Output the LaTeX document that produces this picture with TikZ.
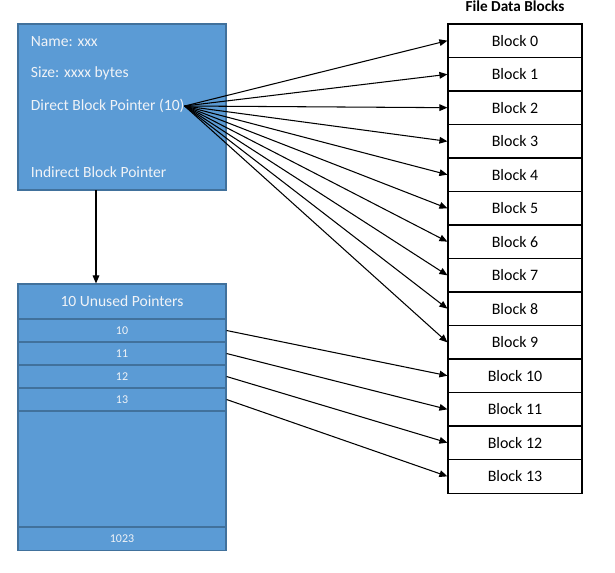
\documentclass[tikz,border=0pt]{standalone}
\usepackage{fontspec}
\setmainfont{Carlito}
\usetikzlibrary{arrows.meta, positioning}
\definecolor{inodeblue}{RGB}{91,155,213}
\definecolor{inodeedge}{RGB}{65,113,156}
\definecolor{inodetext}{RGB}{240,243,247}

\begin{document}
\begin{tikzpicture}[
  bluebox/.style={draw=inodeedge, line width=1pt, fill=inodeblue, minimum width=6.24cm, inner sep=0pt},
  slot/.style={bluebox, text=inodetext, font=\fontsize{10.2}{12}\selectfont},
  field/.style={anchor=west, inner sep=0pt, text=inodetext, font=\fontsize{13.3}{15}\selectfont},
  datablk/.style={draw, line width=1pt, fill=white, minimum width=4.02cm, minimum height=1.005cm, font=\fontsize{13.6}{15}\selectfont},
  ptr/.style={-{Triangle[length=2.4mm,width=2mm]}, line width=0.9pt}
]
\useasboundingbox (0,0) rectangle (18.45,-17.16);

% inode
\node[bluebox, minimum height=4.98cm] (inode) at (3.66,-3.21) {};
\node[field] (name)     at (0.92,-1.25) {Name: xxx};
\node[field] (size)     at (0.92,-2.20) {Size: xxxx bytes};
\node[field] (direct)   at (0.92,-3.18) {Direct Block Pointer (10)};
\node[field] (indirect) at (0.92,-5.15) {Indirect Block Pointer};
\coordinate (ind) at (2.88,-5.70);

% indirect block
\node[bluebox, minimum height=1.05cm, text=inodetext, font=\fontsize{13.3}{15}\selectfont] (unused) at (3.66,-9.045) {10 Unused Pointers};
\node[slot, minimum height=0.69cm] (r10) at (3.66,-9.915)  {10};
\node[slot, minimum height=0.69cm] (r11) at (3.66,-10.605) {11};
\node[slot, minimum height=0.69cm] (r12) at (3.66,-11.295) {12};
\node[slot, minimum height=0.69cm] (r13) at (3.66,-11.985) {13};
\node[slot, minimum height=3.48cm] (gap) at (3.66,-14.07)  {};
\node[slot, minimum height=0.71cm] (r1023) at (3.66,-16.165) {1023};

% data blocks
\node[font=\bfseries\fontsize{13}{15}\selectfont] (fdb) at (15.45,-0.2) {File Data Blocks};
\node[datablk] (b0)  at (15.45,-1.22)  {Block 0};
\node[datablk] (b1)  at (15.45,-2.23)  {Block 1};
\node[datablk] (b2)  at (15.45,-3.23)  {Block 2};
\node[datablk] (b3)  at (15.45,-4.24)  {Block 3};
\node[datablk] (b4)  at (15.45,-5.24)  {Block 4};
\node[datablk] (b5)  at (15.45,-6.25)  {Block 5};
\node[datablk] (b6)  at (15.45,-7.25)  {Block 6};
\node[datablk] (b7)  at (15.45,-8.26)  {Block 7};
\node[datablk] (b8)  at (15.45,-9.26)  {Block 8};
\node[datablk] (b9)  at (15.45,-10.27) {Block 9};
\node[datablk] (b10) at (15.45,-11.27) {Block 10};
\node[datablk] (b11) at (15.45,-12.28) {Block 11};
\node[datablk] (b12) at (15.45,-13.28) {Block 12};
\node[datablk] (b13) at (15.45,-14.29) {Block 13};

% pointers
\draw[ptr] (ind) -- (ind |- unused.north);
\draw[ptr] (direct.east) -- (b0.west);
\draw[ptr] (direct.east) -- (b1.west);
\draw[ptr] (direct.east) -- (b2.west);
\draw[ptr] (direct.east) -- (b3.west);
\draw[ptr] (direct.east) -- (b4.west);
\draw[ptr] (direct.east) -- (b5.west);
\draw[ptr] (direct.east) -- (b6.west);
\draw[ptr] (direct.east) -- (b7.west);
\draw[ptr] (direct.east) -- (b8.west);
\draw[ptr] (direct.east) -- (b9.west);
\draw[ptr] (r10.east) -- (b10.west);
\draw[ptr] (r11.east) -- (b11.west);
\draw[ptr] (r12.east) -- (b12.west);
\draw[ptr] (r13.east) -- (b13.west);
\end{tikzpicture}
\end{document}
